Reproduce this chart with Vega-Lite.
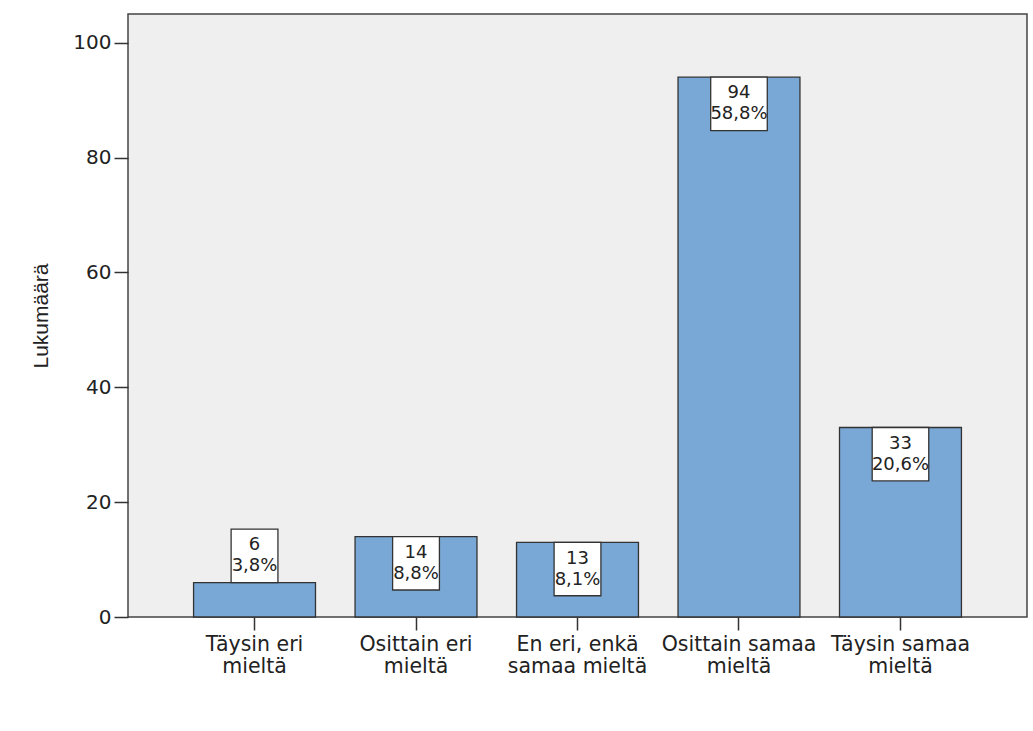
{
  "$schema": "https://vega.github.io/schema/vega-lite/v6.json",
  "autosize": {"type": "none"},
  "width": 899,
  "height": 603,
  "padding": {"left": 128, "top": 14, "right": 6, "bottom": 114},
  "background": "white",
  "config": {
    "view": {"fill": "#efefef", "stroke": "#444", "strokeWidth": 1.5},
    "font": "DejaVu Sans",
    "axis": {"labelFont": "DejaVu Sans", "titleFont": "Liberation Sans", "labelColor": "#222", "titleColor": "#222", "domain": false, "tickColor": "#333", "tickWidth": 1.5, "grid": false}
  },
  "data": {
    "values": [
      {"category": "Täysin eri mieltä", "count": 6, "pct": "3,8%", "lab_bot": 6, "lab_top": 15.3},
      {"category": "Osittain eri mieltä", "count": 14, "pct": "8,8%", "lab_bot": 4.7, "lab_top": 14},
      {"category": "En eri, enkä samaa mieltä", "count": 13, "pct": "8,1%", "lab_bot": 3.7, "lab_top": 13},
      {"category": "Osittain samaa mieltä", "count": 94, "pct": "58,8%", "lab_bot": 84.7, "lab_top": 94},
      {"category": "Täysin samaa mieltä", "count": 33, "pct": "20,6%", "lab_bot": 23.7, "lab_top": 33}
    ]
  },
  "encoding": {
    "x": {
      "field": "category", "type": "nominal", "sort": null,
      "scale": {"paddingInner": 0.245, "paddingOuter": 0.406},
      "axis": {
        "title": null, "labelAngle": 0, "labelFontSize": 20.5, "tickSize": 13, "labelPadding": 4,
        "labelLineHeight": 22, "labelBaseline": "top",
        "labelExpr": "datum.value == 'En eri, enkä samaa mieltä' ? ['En eri, enkä', 'samaa mieltä'] : [replace(datum.value, ' mieltä', ''), 'mieltä']"
      }
    }
  },
  "layer": [
    {
      "mark": {"type": "bar", "fill": "#7aa8d6", "stroke": "#333", "strokeWidth": 1.3},
      "encoding": {
        "y": {
          "field": "count", "type": "quantitative",
          "scale": {"domain": [0, 105], "nice": false},
          "axis": {"values": [0, 20, 40, 60, 80, 100], "title": "Lukumäärä", "titleFontWeight": "normal", "titleFontSize": 21, "labelFontSize": 20, "tickSize": 14, "labelPadding": 3, "titlePadding": 21}
        }
      }
    },
    {
      "transform": [{"filter": "length(datum.pct) <= 4"}],
      "mark": {"type": "bar", "fill": "white", "stroke": "#333", "strokeWidth": 1.3, "width": {"band": 0.384}},
      "encoding": {"y": {"field": "lab_bot", "type": "quantitative"}, "y2": {"field": "lab_top"}}
    },
    {
      "transform": [{"filter": "length(datum.pct) > 4"}],
      "mark": {"type": "bar", "fill": "white", "stroke": "#333", "strokeWidth": 1.3, "width": {"band": 0.464}},
      "encoding": {"y": {"field": "lab_bot", "type": "quantitative"}, "y2": {"field": "lab_top"}}
    },
    {
      "transform": [{"calculate": "(datum.lab_bot + datum.lab_top) / 2", "as": "mid"}],
      "mark": {"type": "text", "fontSize": 18, "color": "#222", "dy": -10.5, "baseline": "middle"},
      "encoding": {"y": {"field": "mid", "type": "quantitative"}, "text": {"field": "count", "type": "quantitative"}}
    },
    {
      "transform": [{"calculate": "(datum.lab_bot + datum.lab_top) / 2", "as": "mid"}],
      "mark": {"type": "text", "fontSize": 18, "color": "#222", "dy": 10.5, "baseline": "middle"},
      "encoding": {"y": {"field": "mid", "type": "quantitative"}, "text": {"field": "pct", "type": "nominal"}}
    }
  ]
}
